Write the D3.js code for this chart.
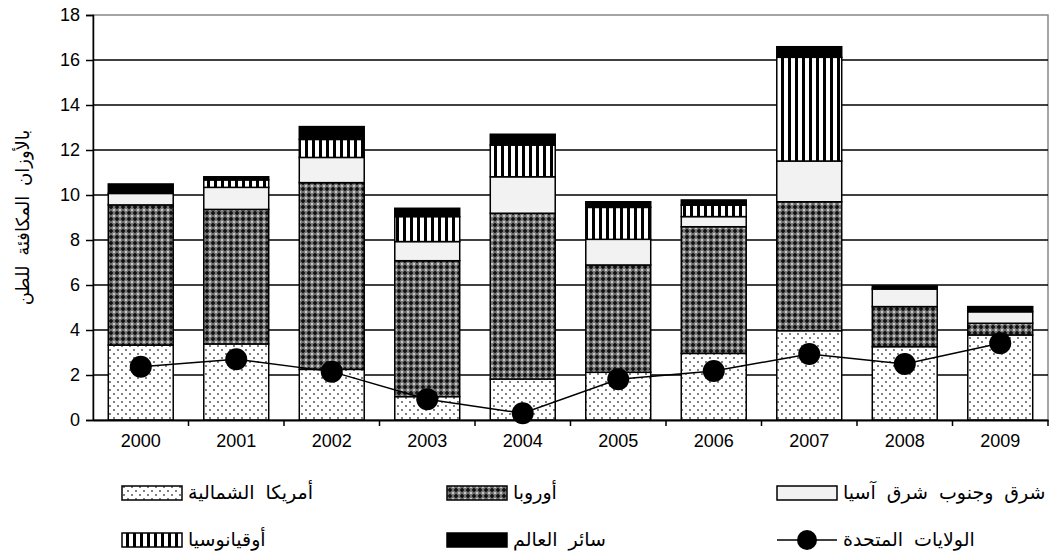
<!DOCTYPE html>
<html>
<meta charset="utf-8">
<head>
  <title>Stacked bars with line</title>
</head>
<style>
body { margin: 0; background: #fff; }
.tick text { font-family: Arial, "Liberation Sans", sans-serif; font-size: 18px; fill: #000; }
.ar { font-family: "DejaVu Sans", sans-serif; fill: #000; }
</style>
<body>
  <svg width="1054" height="558"></svg>

  <script src="https://cdnjs.cloudflare.com/ajax/libs/d3/7.8.5/d3.min.js"></script>
  <script>
var years = ["2000", "2001", "2002", "2003", "2004", "2005", "2006", "2007", "2008", "2009"];

// stacked segments, bottom to top
var northAmerica = [3.33, 3.38, 2.25, 1.04, 1.82, 2.12, 2.96, 3.97, 3.26, 3.78];
var europe       = [6.23, 5.98, 8.30, 6.04, 7.37, 4.77, 5.63, 5.73, 1.78, 0.52];
var eastAsia     = [0.51, 0.98, 1.12, 0.85, 1.62, 1.14, 0.45, 1.81, 0.78, 0.51];
var oceania      = [0.00, 0.33, 0.80, 1.11, 1.41, 1.42, 0.51, 4.61, 0.00, 0.00];
var restOfWorld  = [0.42, 0.14, 0.57, 0.37, 0.48, 0.25, 0.23, 0.47, 0.14, 0.23];

// line series
var unitedStates = [2.37, 2.70, 2.15, 0.92, 0.30, 1.81, 2.18, 2.93, 2.49, 3.41];

var yTicks = [0, 2, 4, 6, 8, 10, 12, 14, 16, 18];

var seriesNames = {
  na: "أمريكا الشمالية",
  eu: "أوروبا",
  ea: "شرق وجنوب شرق آسيا",
  oc: "أوقيانوسيا",
  rw: "سائر العالم",
  us: "الولايات المتحدة"
};
var yTitle = "بالأوزان المكافئة للطن";

var keys = ["na", "eu", "ea", "oc", "rw"];
var table = years.map(function(y, i) {
  return { year: y, na: northAmerica[i], eu: europe[i], ea: eastAsia[i], oc: oceania[i], rw: restOfWorld[i] };
});

var svg = d3.select("svg");
var margin = { left: 93, right: 6, top: 15, bottom: 138 };
var W = 1054, H = 558;

var x = d3.scaleBand().domain(years).range([margin.left, W - margin.right]).paddingInner(0.32).paddingOuter(0.16);
var y = d3.scaleLinear().domain([0, 18]).range([H - margin.bottom, margin.top]);

// patterns
var defs = svg.append("defs");
var pNA = defs.append("pattern").attr("id", "pNA").attr("patternUnits", "userSpaceOnUse").attr("width", 8).attr("height", 8);
pNA.append("rect").attr("width", 8).attr("height", 8).attr("fill", "#fff");
pNA.append("circle").attr("cx", 2).attr("cy", 2).attr("r", 0.9).attr("fill", "#444");
pNA.append("circle").attr("cx", 6).attr("cy", 6).attr("r", 0.9).attr("fill", "#444");

var pEU = defs.append("pattern").attr("id", "pEU").attr("patternUnits", "userSpaceOnUse").attr("width", 6).attr("height", 6);
pEU.append("rect").attr("width", 6).attr("height", 6).attr("fill", "#7a7a7a");
pEU.append("path").attr("d", "M3,0.6 L5.4,3 L3,5.4 L0.6,3 Z").attr("fill", "#111");
pEU.append("circle").attr("cx", 0).attr("cy", 0).attr("r", 0.9).attr("fill", "#eee");
pEU.append("circle").attr("cx", 6).attr("cy", 0).attr("r", 0.9).attr("fill", "#eee");
pEU.append("circle").attr("cx", 0).attr("cy", 6).attr("r", 0.9).attr("fill", "#eee");
pEU.append("circle").attr("cx", 6).attr("cy", 6).attr("r", 0.9).attr("fill", "#eee");

var pOC = defs.append("pattern").attr("id", "pOC").attr("patternUnits", "userSpaceOnUse").attr("width", 7).attr("height", 7);
pOC.append("rect").attr("width", 7).attr("height", 7).attr("fill", "#fff");
pOC.append("rect").attr("x", 4).attr("width", 3).attr("height", 7).attr("fill", "#000");

var fills = { na: "url(#pNA)", eu: "url(#pEU)", ea: "#f2f2f2", oc: "url(#pOC)", rw: "#000" };

// plot frame
svg.append("rect")
  .attr("x", margin.left).attr("y", margin.top)
  .attr("width", W - margin.right - margin.left).attr("height", y(0) - margin.top)
  .attr("fill", "none").attr("stroke", "#888").attr("stroke-width", 1.5);

// gridlines
svg.append("g").selectAll("line")
  .data(yTicks.filter(function(t) { return t > 0 && t < 18; }))
  .enter().append("line")
  .attr("x1", margin.left).attr("x2", W - margin.right)
  .attr("y1", function(d) { return y(d); }).attr("y2", function(d) { return y(d); })
  .attr("stroke", "#000").attr("stroke-width", 1.5);

// stacked bars
var stack = d3.stack().keys(keys)(table);
svg.append("g").selectAll("g")
  .data(stack)
  .enter().append("g")
  .attr("fill", function(d) { return fills[d.key]; })
  .selectAll("rect")
  .data(function(d) { return d.filter(function(s) { return s[1] - s[0] > 0; }); })
  .enter().append("rect")
  .attr("x", function(d) { return x(d.data.year); })
  .attr("width", x.bandwidth())
  .attr("y", function(d) { return y(d[1]); })
  .attr("height", function(d) { return y(d[0]) - y(d[1]); })
  .attr("stroke", "#000").attr("stroke-width", 1.5);

// y axis
var yAxis = svg.append("g")
  .attr("transform", "translate(" + margin.left + ",0)")
  .call(d3.axisLeft(y).tickValues(yTicks).tickSize(7).tickPadding(6));
yAxis.select(".domain").attr("stroke", "#000").attr("stroke-width", 1.5);
yAxis.selectAll(".tick line").attr("stroke", "#000").attr("stroke-width", 1.5);

// x axis with ticks at band boundaries
var xAxis = svg.append("g")
  .attr("transform", "translate(0," + y(0) + ")")
  .call(d3.axisBottom(x).tickSize(0).tickPadding(14));
xAxis.select(".domain").attr("stroke", "#000").attr("stroke-width", 2);
var step = x.step();
xAxis.selectAll(".bound")
  .data(years.slice(1).concat(["end"]))
  .enter().append("line")
  .attr("x1", function(d, i) { return margin.left + step * (i + 1); })
  .attr("x2", function(d, i) { return margin.left + step * (i + 1); })
  .attr("y1", 0).attr("y2", 6)
  .attr("stroke", "#000").attr("stroke-width", 1.5);

// US line
var cx = function(i) { return x(years[i]) + x.bandwidth() / 2; };
var line = d3.line().x(function(d, i) { return cx(i); }).y(function(d) { return y(d); });
svg.append("path").datum(unitedStates)
  .attr("d", line).attr("fill", "none").attr("stroke", "#000").attr("stroke-width", 1.5);
svg.append("g").selectAll("circle")
  .data(unitedStates).enter().append("circle")
  .attr("cx", function(d, i) { return cx(i); })
  .attr("cy", function(d) { return y(d); })
  .attr("r", 11).attr("fill", "#000");

// y title
svg.append("text").attr("class", "ar")
  .attr("transform", "translate(29," + ((margin.top + y(0)) / 2) + ") rotate(-90)")
  .attr("text-anchor", "middle")
  .style("font-size", "18px")
  .style("word-spacing", "4px")
  .text(yTitle);

// legend
var legend = [
  { key: "na", col: 0, row: 0 },
  { key: "eu", col: 1, row: 0 },
  { key: "ea", col: 2, row: 0 },
  { key: "oc", col: 0, row: 1 },
  { key: "rw", col: 1, row: 1 },
  { key: "us", col: 2, row: 1 }
];
var colX = [122, 447, 777], rowY = [493, 540];
var lg = svg.append("g").selectAll("g").data(legend).enter().append("g")
  .attr("transform", function(d) { return "translate(" + colX[d.col] + "," + rowY[d.row] + ")"; });
lg.filter(function(d) { return d.key !== "us"; })
  .append("rect").attr("x", 0).attr("y", -7).attr("width", 60).attr("height", 14)
  .attr("fill", function(d) { return fills[d.key]; })
  .attr("stroke", "#000").attr("stroke-width", 1.5);
lg.filter(function(d) { return d.key === "us"; })
  .append("line").attr("x1", 0).attr("x2", 60).attr("y1", 0).attr("y2", 0)
  .attr("stroke", "#000").attr("stroke-width", 1.5);
lg.filter(function(d) { return d.key === "us"; })
  .append("circle").attr("cx", 30).attr("cy", 0).attr("r", 10).attr("fill", "#000");
lg.append("text").attr("class", "ar")
  .attr("x", 66).attr("y", 0).attr("dy", "0.32em")
  .style("font-size", "19px")
  .style("word-spacing", "5px")
  .text(function(d) { return seriesNames[d.key]; });
  </script>
</body>
</html>
